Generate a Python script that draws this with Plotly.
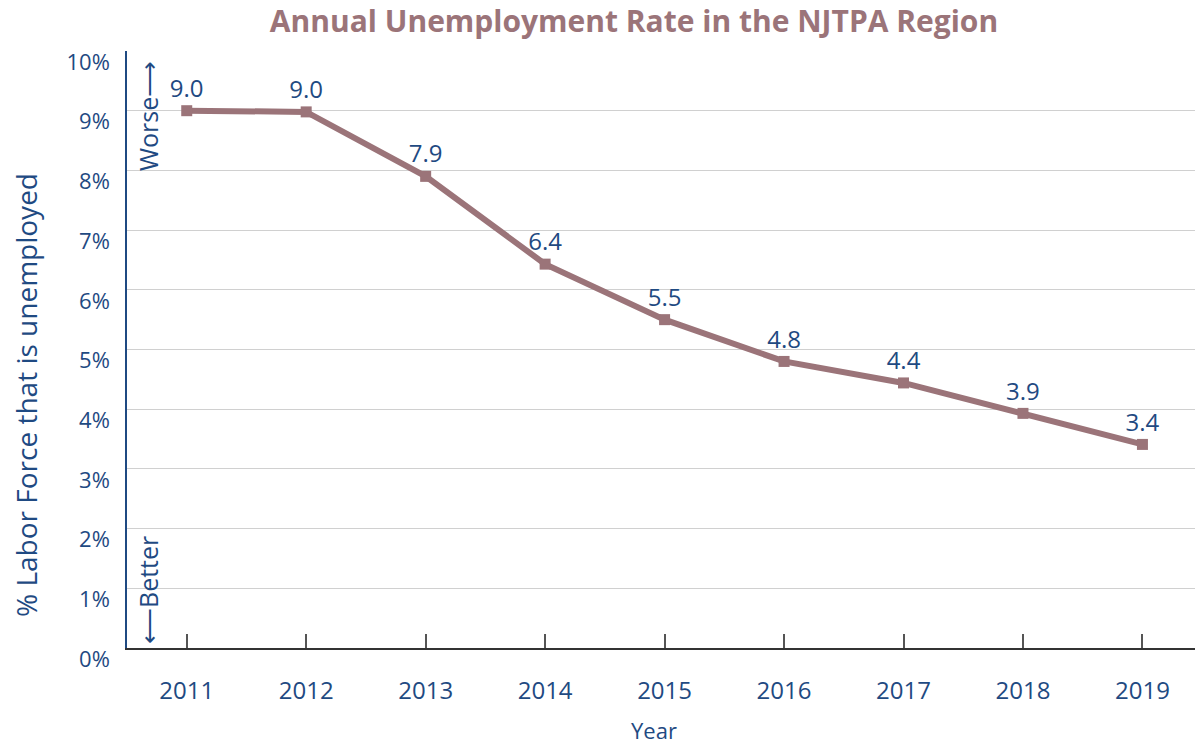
import plotly.graph_objects as go

years = ["2011", "2012", "2013", "2014", "2015", "2016", "2017", "2018", "2019"]
rates = [9.0, 8.98, 7.9, 6.43, 5.5, 4.8, 4.44, 3.93, 3.41]
labels = ["9.0", "9.0", "7.9", "6.4", "5.5", "4.8", "4.4", "3.9", "3.4"]
y_ticks = [0, 1, 2, 3, 4, 5, 6, 7, 8, 9, 10]
y_tick_text = [f"{v}%" for v in y_ticks]

LINE = "#9b7479"
BLUE = "#1f4a82"
FONT = "Open Sans"

L, T, B = 127, 51, 96
PW, PH = 1195 - L, 744 - T - B

fig = go.Figure()
fig.add_trace(go.Scatter(
    x=years, y=rates, mode="lines+markers+text",
    line=dict(color=LINE, width=6),
    marker=dict(symbol="square", size=11, color=LINE),
    text=labels, textposition="top center",
    textfont=dict(family=FONT, size=24, color=BLUE),
    cliponaxis=False, showlegend=False, hoverinfo="skip",
))

fig.update_layout(
    width=1195, height=744,
    margin=dict(l=L, r=0, t=T, b=B, autoexpand=False),
    paper_bgcolor="white", plot_bgcolor="white",
    font=dict(family=FONT, color=BLUE),
    title=dict(text="<b>Annual Unemployment Rate in the NJTPA Region</b>",
               x=634/1195, xanchor="center", y=1 - 21/744, yanchor="middle",
               font=dict(family=FONT, size=30, color=LINE)),
    xaxis=dict(
        type="category", range=[-0.5, 8.44], automargin=False,
        showline=True, linecolor="#333333", linewidth=2,
        ticks="inside", ticklen=14, tickcolor="#555555", tickwidth=1.5,
        showgrid=False, ticklabelstandoff=20,
        tickfont=dict(family=FONT, size=24, color=BLUE),
    ),
    yaxis=dict(
        range=[0, 10], tickvals=y_ticks, ticktext=y_tick_text, automargin=False,
        showline=True, linecolor=BLUE, linewidth=1.5,
        showgrid=True, gridcolor="#d0d0d0", gridwidth=1,
        zeroline=False, ticks="",
        ticklabelstandoff=11, ticklabelshift=11,
        tickfont=dict(family=FONT, size=22, color=BLUE),
    ),
)

def px_x(x):
    return (x - L) / PW

def px_y(y):
    return (744 - B - y) / PH

fig.add_annotation(
    text="Year", xref="paper", yref="paper",
    x=px_x(654), y=px_y(730), showarrow=False,
    font=dict(family=FONT, size=22, color=BLUE), xanchor="center", yanchor="middle",
)
fig.add_annotation(
    text="% Labor Force that is unemployed", xref="paper", yref="paper",
    x=px_x(26), y=px_y(395), textangle=-90, showarrow=False,
    font=dict(family=FONT, size=28, color=BLUE), xanchor="center", yanchor="middle",
)
fig.add_annotation(
    text="Worse\u27f6", xref="paper", yref="paper",
    x=px_x(148), y=px_y(116), textangle=-90, showarrow=False,
    font=dict(family=FONT, size=25, color=BLUE), xanchor="center", yanchor="middle",
)
fig.add_annotation(
    text="\u27f5Better", xref="paper", yref="paper",
    x=px_x(148), y=px_y(590), textangle=-90, showarrow=False,
    font=dict(family=FONT, size=25, color=BLUE), xanchor="center", yanchor="middle",
)

fig.write_html("out.html", config={"displayModeBar": False},
               post_script="document.body.style.margin='0';")
